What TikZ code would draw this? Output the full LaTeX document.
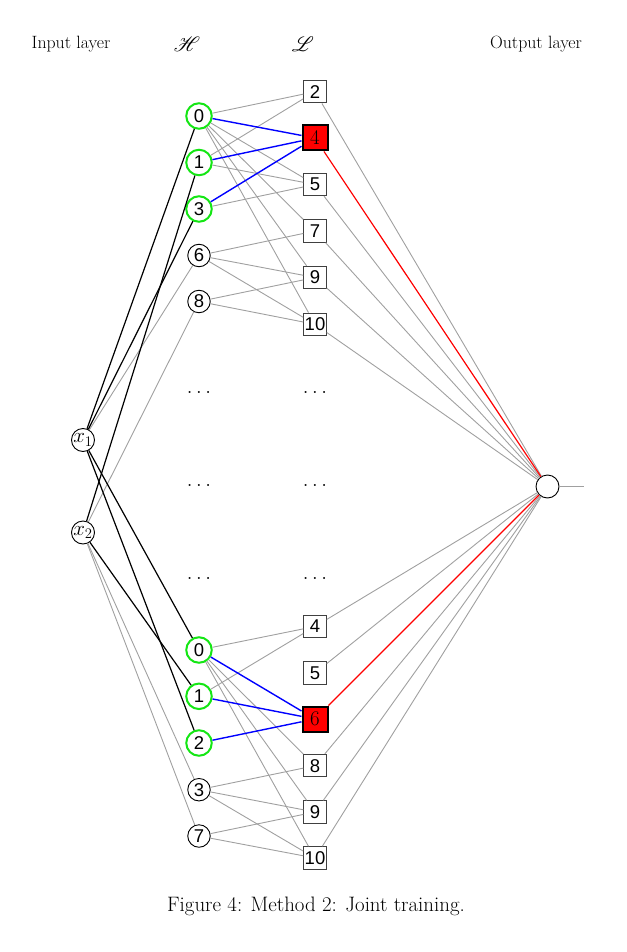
\RequirePackage{fix-cm}
\documentclass[tikz,border=0pt]{standalone}
\usepackage{mathrsfs}
\usepackage{fontspec}
\newfontfamily\digfont{Liberation Sans}
\definecolor{lgray}{RGB}{160,160,160}
\definecolor{lgreen}{RGB}{20,230,20}
\begin{document}
\begin{tikzpicture}[x=1pt,y=-1pt,
 hdr/.style={font=\fontsize{17.8}{21}\selectfont, inner sep=0pt},
 mhdr/.style={font=\fontsize{20.9}{25}\selectfont, inner sep=0pt},
 hnode/.style={circle, draw=black, line width=0.9pt, minimum size=22.5pt, inner sep=0pt, fill=white, font=\digfont\fontsize{18.5}{22}\selectfont},
 gnode/.style={hnode, draw=lgreen, line width=2pt, minimum size=25.5pt},
 lnode/.style={rectangle, draw=black!75, line width=1pt, minimum size=22.5pt, inner sep=1pt, fill=white, font=\digfont\fontsize{18.5}{22}\selectfont},
 lred/.style={lnode, draw=black, fill=red, line width=2pt, minimum size=25pt, font=\rmfamily\fontsize{20.9}{25}\selectfont},
 xnode/.style={circle, draw=black, line width=0.9pt, minimum size=23pt, inner sep=0pt, fill=white, font=\fontsize{20.9}{25}\selectfont},
 gl/.style={draw=lgray, line width=0.9pt},
 bl/.style={draw=black, line width=1.2pt},
 blu/.style={draw=blue, line width=1.4pt},
 rl/.style={draw=red, line width=1.2pt},
 dotn/.style={font=\fontsize{20.9}{25}\selectfont, inner sep=0pt}
]
\useasboundingbox (0,0) rectangle (626,952);

% headers
\node[hdr] (hin) at (71,44) {Input layer};
\node[mhdr] (hH) at (187,44) {$\mathscr{H}$};
\node[mhdr] (hL) at (303,44) {$\mathscr{L}$};
\node[hdr] (hout) at (536,44) {Output layer};

% input nodes
\node[xnode] (x1) at (83,440) {$x_1$};
\node[xnode] (x2) at (83,532.5) {$x_2$};

% top H
\node[gnode] (t0) at (199,116) {0};
\node[gnode] (t1) at (199,162.5) {1};
\node[gnode] (t3) at (199,209) {3};
\node[hnode] (t6) at (199,255.5) {6};
\node[hnode] (t8) at (199,301.5) {8};
% top L
\node[lnode] (lt2) at (315,91.7) {2};
\node[lred] (lt4) at (315,138) {4};
\node[lnode] (lt5) at (315,184.5) {5};
\node[lnode] (lt7) at (315,231) {7};
\node[lnode] (lt9) at (315,277.5) {9};
\node[lnode] (lt10) at (315,324.3) {10};

% dots
\node[dotn] (dh1) at (199,392) {$\dots$};
\node[dotn] (dh2) at (199,485) {$\dots$};
\node[dotn] (dh3) at (199,578) {$\dots$};
\node[dotn] (dl1) at (315,392) {$\dots$};
\node[dotn] (dl2) at (315,485) {$\dots$};
\node[dotn] (dl3) at (315,578) {$\dots$};

% bottom H
\node[gnode] (b0) at (199,650) {0};
\node[gnode] (b1) at (199,696.3) {1};
\node[gnode] (b2) at (199,743) {2};
\node[hnode] (b3) at (199,789.7) {3};
\node[hnode] (b7) at (199,836) {7};
% bottom L
\node[lnode] (lb4) at (315,626.5) {4};
\node[lnode] (lb5) at (315,673) {5};
\node[lred] (lb6) at (315,719) {6};
\node[lnode] (lb8) at (315,765.7) {8};
\node[lnode] (lb9) at (315,812) {9};
\node[lnode] (lb10) at (315,858) {10};

% output
\node[xnode] (out) at (547.5,486.5) {};
\coordinate (oe) at (584,486.5);

% gray edges
\foreach \a/\b in {x1/t6, x2/t8, x2/b3, x2/b7,
  t0/lt2, t0/lt5, t0/lt7, t0/lt9, t0/lt10, t1/lt2, t1/lt5, t3/lt5,
  t6/lt7, t6/lt9, t6/lt10, t8/lt9, t8/lt10,
  b0/lb4, b0/lb8, b0/lb9, b0/lb10, b1/lb4,
  b3/lb8, b3/lb9, b3/lb10, b7/lb9, b7/lb10,
  lt2/out, lt5/out, lt7/out, lt9/out, lt10/out,
  lb4/out, lb5/out, lb8/out, lb9/out, lb10/out}
  \draw[gl] (\a) -- (\b);
\draw[gl] (out) -- (oe);
% black edges
\foreach \a/\b in {x1/t0, x1/t3, x1/b0, x1/b2, x2/t1, x2/b1}
  \draw[bl] (\a) -- (\b);
% blue edges
\foreach \a/\b in {t0/lt4, t1/lt4, t3/lt4, b0/lb6, b1/lb6, b2/lb6}
  \draw[blu] (\a) -- (\b);
% red edges
\draw[rl] (lt4) -- (out);
\draw[rl] (lb6) -- (out);

% caption
\node[mhdr] (cap) at (316,906) {Figure 4: Method 2: Joint training.};
\end{tikzpicture}
\end{document}
